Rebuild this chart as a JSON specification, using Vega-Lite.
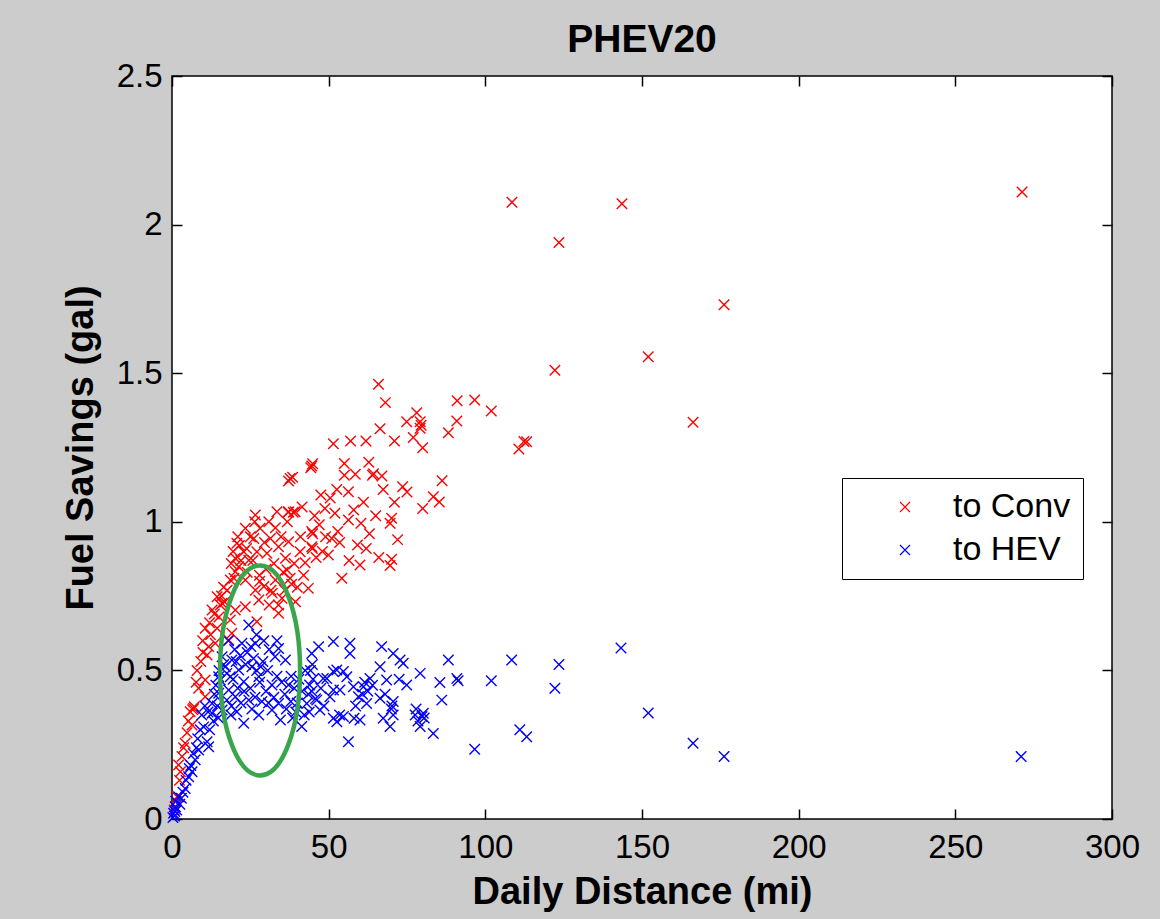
{
"$schema": "https://vega.github.io/schema/vega-lite/v6.json",
"width": 940, "height": 743,
"autosize": {"type": "none"},
"padding": {"left": 172, "top": 76, "right": 48, "bottom": 100},
"background": "#cccccc",
"title": {"text": "PHEV20", "fontSize": 39, "font": "Liberation Sans", "fontWeight": "bold", "color": "black", "anchor": "middle", "baseline": "alphabetic", "offset": -31},
"config": {
  "view": {"stroke": "black", "strokeWidth": 1.5, "fill": "white"},
  "axis": {"grid": false, "domain": false, "tickColor": "black", "tickSize": -10, "tickWidth": 1.5,
    "labelFont": "Liberation Sans", "labelFontSize": 33, "labelColor": "black",
    "titleFont": "Liberation Sans", "titleFontSize": 38, "titleFontWeight": "bold", "titleColor": "black"}
},
"datasets": {
  "pts": [
{"series":"to Conv","mi":108.5,"gal":2.075},{"series":"to Conv","mi":143.6,"gal":2.07},{"series":"to Conv","mi":271.3,"gal":2.11},{"series":"to Conv","mi":123.5,"gal":1.94},{"series":"to Conv","mi":176.2,"gal":1.73},{"series":"to Conv","mi":152,"gal":1.555},{"series":"to Conv","mi":122.2,"gal":1.51},{"series":"to Conv","mi":166.3,"gal":1.335},{"series":"to Conv","mi":112.3,"gal":1.27},{"series":"to Conv","mi":110.7,"gal":1.245},
{"series":"to Conv","mi":65.9,"gal":1.463},{"series":"to Conv","mi":68.1,"gal":1.401},{"series":"to Conv","mi":91,"gal":1.407},{"series":"to Conv","mi":96.6,"gal":1.41},{"series":"to Conv","mi":101.9,"gal":1.373},{"series":"to Conv","mi":90.9,"gal":1.339},{"series":"to Conv","mi":88.2,"gal":1.3},{"series":"to Conv","mi":78.1,"gal":1.367},{"series":"to Conv","mi":74.9,"gal":1.337},{"series":"to Conv","mi":79.2,"gal":1.337},{"series":"to Conv","mi":79.5,"gal":1.325},{"series":"to Conv","mi":79.2,"gal":1.315},{"series":"to Conv","mi":66.4,"gal":1.313},{"series":"to Conv","mi":77,"gal":1.284},{"series":"to Conv","mi":80,"gal":1.249},{"series":"to Conv","mi":71,"gal":1.272},{"series":"to Conv","mi":61.9,"gal":1.272},{"series":"to Conv","mi":57,"gal":1.272},{"series":"to Conv","mi":51.5,"gal":1.263},{"series":"to Conv","mi":113.2,"gal":1.269},
{"series":"to Conv","mi":44.6,"gal":1.188},{"series":"to Conv","mi":44.9,"gal":1.195},{"series":"to Conv","mi":44.3,"gal":1.182},{"series":"to Conv","mi":55,"gal":1.196},{"series":"to Conv","mi":55,"gal":1.157},{"series":"to Conv","mi":64,"gal":1.157},{"series":"to Conv","mi":64.3,"gal":1.162},{"series":"to Conv","mi":67,"gal":1.154},{"series":"to Conv","mi":37.7,"gal":1.146},{"series":"to Conv","mi":86.2,"gal":1.138},{"series":"to Conv","mi":52.6,"gal":1.109},{"series":"to Conv","mi":56.3,"gal":1.101},{"series":"to Conv","mi":73.6,"gal":1.118},{"series":"to Conv","mi":67.4,"gal":1.109},{"series":"to Conv","mi":83.4,"gal":1.084},{"series":"to Conv","mi":85.3,"gal":1.067},{"series":"to Conv","mi":80,"gal":1.045},{"series":"to Conv","mi":61.1,"gal":1.066},{"series":"to Conv","mi":71,"gal":1.066},{"series":"to Conv","mi":37.1,"gal":1.032},{"series":"to Conv","mi":38.7,"gal":1.032},{"series":"to Conv","mi":48.8,"gal":1.045},{"series":"to Conv","mi":52,"gal":1.029},{"series":"to Conv","mi":56.3,"gal":1.006},{"series":"to Conv","mi":60.3,"gal":0.995},{"series":"to Conv","mi":70.1,"gal":1.012},{"series":"to Conv","mi":69.6,"gal":0.995},{"series":"to Conv","mi":44.6,"gal":0.967},{"series":"to Conv","mi":44.9,"gal":0.96},{"series":"to Conv","mi":44.6,"gal":0.916},{"series":"to Conv","mi":44.8,"gal":0.91},{"series":"to Conv","mi":51,"gal":0.944},{"series":"to Conv","mi":52.9,"gal":0.967},{"series":"to Conv","mi":59.2,"gal":0.922},{"series":"to Conv","mi":62,"gal":0.91},{"series":"to Conv","mi":49.9,"gal":0.888},{"series":"to Conv","mi":40.9,"gal":0.899},{"series":"to Conv","mi":42.5,"gal":0.862},{"series":"to Conv","mi":60,"gal":0.855},{"series":"to Conv","mi":70.1,"gal":0.874},{"series":"to Conv","mi":69.6,"gal":0.853},{"series":"to Conv","mi":54.2,"gal":0.81},{"series":"to Conv","mi":37.7,"gal":0.81},{"series":"to Conv","mi":43.5,"gal":0.776},
{"series":"to Conv","mi":37.2,"gal":1.137},{"series":"to Conv","mi":33.5,"gal":1.034},{"series":"to Conv","mi":37.2,"gal":1.034},{"series":"to Conv","mi":39.3,"gal":1.034},{"series":"to Conv","mi":26.6,"gal":1.023},{"series":"to Conv","mi":26.4,"gal":1.0},{"series":"to Conv","mi":30.9,"gal":1.0},{"series":"to Conv","mi":23.4,"gal":0.978},{"series":"to Conv","mi":28.1,"gal":0.978},{"series":"to Conv","mi":31.4,"gal":0.944},{"series":"to Conv","mi":37.2,"gal":0.933},{"series":"to Conv","mi":34,"gal":0.916},{"series":"to Conv","mi":26.1,"gal":0.944},{"series":"to Conv","mi":20.7,"gal":0.928},{"series":"to Conv","mi":22.9,"gal":0.899},{"series":"to Conv","mi":27.1,"gal":0.899},{"series":"to Conv","mi":20.2,"gal":0.877},{"series":"to Conv","mi":24.5,"gal":0.871},{"series":"to Conv","mi":21.3,"gal":0.849},{"series":"to Conv","mi":30.3,"gal":0.894},{"series":"to Conv","mi":36.2,"gal":0.877},{"series":"to Conv","mi":36.7,"gal":0.838},{"series":"to Conv","mi":33,"gal":0.804},{"series":"to Conv","mi":29.3,"gal":0.782},{"series":"to Conv","mi":31.6,"gal":0.77},{"series":"to Conv","mi":26.6,"gal":0.77},{"series":"to Conv","mi":23.4,"gal":0.804},{"series":"to Conv","mi":20.2,"gal":0.832},{"series":"to Conv","mi":18.6,"gal":0.804},{"series":"to Conv","mi":17.6,"gal":0.77},{"series":"to Conv","mi":14.4,"gal":0.748},{"series":"to Conv","mi":15.4,"gal":0.72},{"series":"to Conv","mi":27.7,"gal":0.737},{"series":"to Conv","mi":35.1,"gal":0.743},{"series":"to Conv","mi":39.4,"gal":0.731},
{"series":"to Conv","mi":16,"gal":0.726},{"series":"to Conv","mi":12.8,"gal":0.703},{"series":"to Conv","mi":10.6,"gal":0.642},{"series":"to Conv","mi":14.4,"gal":0.642},{"series":"to Conv","mi":18.6,"gal":0.67},{"series":"to Conv","mi":20.2,"gal":0.703},{"series":"to Conv","mi":23.4,"gal":0.714},{"series":"to Conv","mi":27.1,"gal":0.664},{"series":"to Conv","mi":34,"gal":0.72},{"series":"to Conv","mi":34,"gal":0.692},{"series":"to Conv","mi":11.7,"gal":0.58},{"series":"to Conv","mi":13.8,"gal":0.591},{"series":"to Conv","mi":18.1,"gal":0.602},{"series":"to Conv","mi":19.1,"gal":0.625},{"series":"to Conv","mi":11.2,"gal":0.552},{"series":"to Conv","mi":10.6,"gal":0.468},{"series":"to Conv","mi":8.5,"gal":0.44},{"series":"to Conv","mi":6.9,"gal":0.372},{"series":"to Conv","mi":7.1,"gal":0.378},{"series":"to Conv","mi":6.6,"gal":0.368},{"series":"to Conv","mi":10.6,"gal":0.411},
{"series":"to Conv","mi":6.4,"gal":0.316},{"series":"to Conv","mi":5.8,"gal":0.361},{"series":"to Conv","mi":3.2,"gal":0.21},{"series":"to Conv","mi":2.7,"gal":0.159},{"series":"to Conv","mi":1.6,"gal":0.075},{"series":"to Conv","mi":1.05,"gal":0.041},{"series":"to Conv","mi":4.2,"gal":0.255},{"series":"to Conv","mi":2.1,"gal":0.182},
{"series":"to Conv","mi":19.5,"gal":0.9},{"series":"to Conv","mi":21.5,"gal":0.92},{"series":"to Conv","mi":22,"gal":0.87},{"series":"to Conv","mi":18.9,"gal":0.86},{"series":"to Conv","mi":23.8,"gal":0.91},{"series":"to Conv","mi":25,"gal":0.95},{"series":"to Conv","mi":21,"gal":0.95},{"series":"to Conv","mi":24,"gal":0.83},{"series":"to Conv","mi":19.8,"gal":0.81},{"series":"to Conv","mi":16.5,"gal":0.78},{"series":"to Conv","mi":15.8,"gal":0.75},{"series":"to Conv","mi":13.5,"gal":0.69},{"series":"to Conv","mi":12,"gal":0.66},{"series":"to Conv","mi":9.8,"gal":0.6},{"series":"to Conv","mi":9.2,"gal":0.53},{"series":"to Conv","mi":8,"gal":0.5},{"series":"to Conv","mi":7.7,"gal":0.46},{"series":"to Conv","mi":5.2,"gal":0.33},{"series":"to Conv","mi":4.8,"gal":0.29},{"series":"to Conv","mi":3.7,"gal":0.24},{"series":"to Conv","mi":2.4,"gal":0.13},{"series":"to Conv","mi":1.3,"gal":0.06},{"series":"to Conv","mi":0.7,"gal":0.03},{"series":"to Conv","mi":9.9,"gal":0.56},{"series":"to Conv","mi":12.3,"gal":0.62},{"series":"to Conv","mi":15,"gal":0.68},{"series":"to Conv","mi":16.8,"gal":0.73},{"series":"to Conv","mi":28,"gal":0.8},{"series":"to Conv","mi":30,"gal":0.84},{"series":"to Conv","mi":32.5,"gal":0.86},{"series":"to Conv","mi":34.8,"gal":0.95},{"series":"to Conv","mi":33,"gal":0.98},{"series":"to Conv","mi":29.5,"gal":0.93},{"series":"to Conv","mi":25.8,"gal":0.87},{"series":"to Conv","mi":27.9,"gal":0.82},{"series":"to Conv","mi":31,"gal":0.72},{"series":"to Conv","mi":36,"gal":0.77},{"series":"to Conv","mi":38.2,"gal":0.79},{"series":"to Conv","mi":40,"gal":0.78},{"series":"to Conv","mi":42,"gal":0.82},{"series":"to Conv","mi":46,"gal":0.88},{"series":"to Conv","mi":48,"gal":0.9},{"series":"to Conv","mi":49,"gal":0.95},{"series":"to Conv","mi":47,"gal":0.99},{"series":"to Conv","mi":45.5,"gal":1.02},{"series":"to Conv","mi":41,"gal":0.95},{"series":"to Conv","mi":39,"gal":0.86},{"series":"to Conv","mi":35.5,"gal":0.83},{"series":"to Conv","mi":32,"gal":0.76},{"series":"to Conv","mi":36.8,"gal":1.0},{"series":"to Conv","mi":41.5,"gal":1.05},{"series":"to Conv","mi":38.5,"gal":1.15},{"series":"to Conv","mi":50.5,"gal":1.08},{"series":"to Conv","mi":58,"gal":1.04},{"series":"to Conv","mi":53.5,"gal":0.93},{"series":"to Conv","mi":56.5,"gal":0.87},{"series":"to Conv","mi":63,"gal":0.96},{"series":"to Conv","mi":66,"gal":0.88},{"series":"to Conv","mi":72,"gal":0.94},{"series":"to Conv","mi":65,"gal":1.02},{"series":"to Conv","mi":75,"gal":1.1},{"series":"to Conv","mi":58.5,"gal":1.16},{"series":"to Conv","mi":62.8,"gal":1.2},{"series":"to Conv","mi":47.5,"gal":1.09},
{"series":"to HEV","mi":271,"gal":0.21},{"series":"to HEV","mi":176.2,"gal":0.21},{"series":"to HEV","mi":166.3,"gal":0.255},{"series":"to HEV","mi":152,"gal":0.357},{"series":"to HEV","mi":143.3,"gal":0.575},{"series":"to HEV","mi":123.5,"gal":0.52},{"series":"to HEV","mi":122.2,"gal":0.44},{"series":"to HEV","mi":108.4,"gal":0.535},{"series":"to HEV","mi":111,"gal":0.3},{"series":"to HEV","mi":113.2,"gal":0.277},{"series":"to HEV","mi":101.9,"gal":0.465},{"series":"to HEV","mi":96.6,"gal":0.235},
{"series":"to HEV","mi":51.5,"gal":0.597},{"series":"to HEV","mi":56.8,"gal":0.591},{"series":"to HEV","mi":56.8,"gal":0.557},{"series":"to HEV","mi":44.6,"gal":0.557},{"series":"to HEV","mi":52.6,"gal":0.501},{"series":"to HEV","mi":55.8,"gal":0.479},{"series":"to HEV","mi":49.4,"gal":0.473},{"series":"to HEV","mi":43.9,"gal":0.451},{"series":"to HEV","mi":51.5,"gal":0.434},{"series":"to HEV","mi":57.9,"gal":0.445},{"series":"to HEV","mi":46.2,"gal":0.4},{"series":"to HEV","mi":43,"gal":0.389},{"series":"to HEV","mi":47.2,"gal":0.367},{"series":"to HEV","mi":51.5,"gal":0.339},{"series":"to HEV","mi":54.7,"gal":0.345},{"series":"to HEV","mi":56.3,"gal":0.26},{"series":"to HEV","mi":58.1,"gal":0.339},
{"series":"to HEV","mi":66.9,"gal":0.58},{"series":"to HEV","mi":70.6,"gal":0.557},{"series":"to HEV","mi":73.8,"gal":0.524},{"series":"to HEV","mi":66.4,"gal":0.512},{"series":"to HEV","mi":88.2,"gal":0.535},{"series":"to HEV","mi":79.2,"gal":0.49},{"series":"to HEV","mi":85.5,"gal":0.459},{"series":"to HEV","mi":90.9,"gal":0.473},{"series":"to HEV","mi":91.3,"gal":0.465},{"series":"to HEV","mi":74.9,"gal":0.451},{"series":"to HEV","mi":68.5,"gal":0.468},{"series":"to HEV","mi":63.2,"gal":0.473},{"series":"to HEV","mi":61.1,"gal":0.445},{"series":"to HEV","mi":54.7,"gal":0.496},{"series":"to HEV","mi":51.5,"gal":0.496},{"series":"to HEV","mi":48.3,"gal":0.473},{"series":"to HEV","mi":53.6,"gal":0.434},{"series":"to HEV","mi":50.4,"gal":0.411},{"series":"to HEV","mi":59.5,"gal":0.411},{"series":"to HEV","mi":62.1,"gal":0.389},{"series":"to HEV","mi":66.4,"gal":0.406},{"series":"to HEV","mi":70.6,"gal":0.395},{"series":"to HEV","mi":70.6,"gal":0.35},{"series":"to HEV","mi":67.4,"gal":0.339},{"series":"to HEV","mi":69.6,"gal":0.311},{"series":"to HEV","mi":60,"gal":0.333},{"series":"to HEV","mi":52.6,"gal":0.327},{"series":"to HEV","mi":53.5,"gal":0.35},{"series":"to HEV","mi":77.6,"gal":0.35},{"series":"to HEV","mi":80.2,"gal":0.356},{"series":"to HEV","mi":79.2,"gal":0.311},{"series":"to HEV","mi":83.4,"gal":0.288},{"series":"to HEV","mi":86.1,"gal":0.4},{"series":"to HEV","mi":41.4,"gal":0.311},{"series":"to HEV","mi":72.8,"gal":0.535},{"series":"to HEV","mi":61.5,"gal":0.46},{"series":"to HEV","mi":62.5,"gal":0.43},{"series":"to HEV","mi":60.8,"gal":0.42},{"series":"to HEV","mi":64,"gal":0.45},{"series":"to HEV","mi":58.6,"gal":0.38},{"series":"to HEV","mi":78.5,"gal":0.33},{"series":"to HEV","mi":79.8,"gal":0.345},{"series":"to HEV","mi":80.5,"gal":0.34},{"series":"to HEV","mi":77.9,"gal":0.37},{"series":"to HEV","mi":70.2,"gal":0.38},{"series":"to HEV","mi":70,"gal":0.37},{"series":"to HEV","mi":68,"gal":0.42},{"series":"to HEV","mi":72.5,"gal":0.47},
{"series":"to HEV","mi":24.5,"gal":0.653},{"series":"to HEV","mi":22.3,"gal":0.591},{"series":"to HEV","mi":26.6,"gal":0.591},{"series":"to HEV","mi":29.3,"gal":0.6},{"series":"to HEV","mi":34,"gal":0.574},{"series":"to HEV","mi":36.2,"gal":0.535},{"series":"to HEV","mi":32.9,"gal":0.546},{"series":"to HEV","mi":25.5,"gal":0.512},{"series":"to HEV","mi":28.3,"gal":0.512},{"series":"to HEV","mi":21.3,"gal":0.501},{"series":"to HEV","mi":19.1,"gal":0.535},{"series":"to HEV","mi":18.6,"gal":0.479},{"series":"to HEV","mi":22.9,"gal":0.462},{"series":"to HEV","mi":27.7,"gal":0.479},{"series":"to HEV","mi":31.9,"gal":0.451},{"series":"to HEV","mi":37.2,"gal":0.451},{"series":"to HEV","mi":18.1,"gal":0.434},{"series":"to HEV","mi":15.4,"gal":0.468},{"series":"to HEV","mi":14.9,"gal":0.423},{"series":"to HEV","mi":20.2,"gal":0.411},{"series":"to HEV","mi":24.5,"gal":0.4},{"series":"to HEV","mi":28.7,"gal":0.395},{"series":"to HEV","mi":34,"gal":0.389},{"series":"to HEV","mi":37.9,"gal":0.395},{"series":"to HEV","mi":12.8,"gal":0.389},{"series":"to HEV","mi":16,"gal":0.367},{"series":"to HEV","mi":20.7,"gal":0.361},{"series":"to HEV","mi":27.7,"gal":0.35},{"series":"to HEV","mi":31.9,"gal":0.367},{"series":"to HEV","mi":14.9,"gal":0.479},{"series":"to HEV","mi":17,"gal":0.512},{"series":"to HEV","mi":16,"gal":0.546},
{"series":"to HEV","mi":12.8,"gal":0.356},{"series":"to HEV","mi":11.7,"gal":0.243},{"series":"to HEV","mi":11.2,"gal":0.26},{"series":"to HEV","mi":8.5,"gal":0.232},{"series":"to HEV","mi":7.4,"gal":0.199},{"series":"to HEV","mi":6.4,"gal":0.159},{"series":"to HEV","mi":5.3,"gal":0.142},{"series":"to HEV","mi":4.2,"gal":0.103},{"series":"to HEV","mi":2.1,"gal":0.075},{"series":"to HEV","mi":1.05,"gal":0.041},{"series":"to HEV","mi":0.5,"gal":0.019},{"series":"to HEV","mi":22.9,"gal":0.322},{"series":"to HEV","mi":34.6,"gal":0.333},{"series":"to HEV","mi":10.1,"gal":0.31},
{"series":"to HEV","mi":13.5,"gal":0.42},{"series":"to HEV","mi":14,"gal":0.45},{"series":"to HEV","mi":15,"gal":0.5},{"series":"to HEV","mi":16.5,"gal":0.52},{"series":"to HEV","mi":17.5,"gal":0.49},{"series":"to HEV","mi":19.5,"gal":0.47},{"series":"to HEV","mi":20.5,"gal":0.53},{"series":"to HEV","mi":21.8,"gal":0.55},{"series":"to HEV","mi":23.5,"gal":0.52},{"series":"to HEV","mi":24,"gal":0.56},{"series":"to HEV","mi":25.2,"gal":0.58},{"series":"to HEV","mi":26,"gal":0.54},{"series":"to HEV","mi":27,"gal":0.5},{"series":"to HEV","mi":28,"gal":0.46},{"series":"to HEV","mi":29,"gal":0.53},{"series":"to HEV","mi":30.5,"gal":0.5},{"series":"to HEV","mi":31,"gal":0.57},{"series":"to HEV","mi":30,"gal":0.43},{"series":"to HEV","mi":32.5,"gal":0.41},{"series":"to HEV","mi":33.5,"gal":0.48},{"series":"to HEV","mi":35,"gal":0.46},{"series":"to HEV","mi":36,"gal":0.42},{"series":"to HEV","mi":38,"gal":0.48},{"series":"to HEV","mi":39,"gal":0.44},{"series":"to HEV","mi":40.5,"gal":0.47},{"series":"to HEV","mi":41.5,"gal":0.43},{"series":"to HEV","mi":42.5,"gal":0.5},{"series":"to HEV","mi":40,"gal":0.39},{"series":"to HEV","mi":39.5,"gal":0.36},{"series":"to HEV","mi":38.5,"gal":0.34},{"series":"to HEV","mi":36.5,"gal":0.37},{"series":"to HEV","mi":26.5,"gal":0.41},{"series":"to HEV","mi":25,"gal":0.44},{"series":"to HEV","mi":23,"gal":0.43},{"series":"to HEV","mi":22,"gal":0.39},{"series":"to HEV","mi":21,"gal":0.44},{"series":"to HEV","mi":19,"gal":0.38},{"series":"to HEV","mi":17.5,"gal":0.4},{"series":"to HEV","mi":14.5,"gal":0.38},{"series":"to HEV","mi":13.2,"gal":0.33},{"series":"to HEV","mi":11.5,"gal":0.36},{"series":"to HEV","mi":10.5,"gal":0.38},{"series":"to HEV","mi":9.5,"gal":0.35},{"series":"to HEV","mi":9,"gal":0.3},{"series":"to HEV","mi":8.2,"gal":0.27},{"series":"to HEV","mi":7.8,"gal":0.24},{"series":"to HEV","mi":6.8,"gal":0.22},{"series":"to HEV","mi":6,"gal":0.18},{"series":"to HEV","mi":5.5,"gal":0.17},{"series":"to HEV","mi":4.5,"gal":0.13},{"series":"to HEV","mi":3.5,"gal":0.09},{"series":"to HEV","mi":3,"gal":0.07},{"series":"to HEV","mi":2.5,"gal":0.05},{"series":"to HEV","mi":1.5,"gal":0.03},{"series":"to HEV","mi":0.8,"gal":0.01},{"series":"to HEV","mi":0.3,"gal":0.005},{"series":"to HEV","mi":1.2,"gal":0.06},{"series":"to HEV","mi":0.9,"gal":0.025},{"series":"to HEV","mi":12,"gal":0.3},{"series":"to HEV","mi":14.8,"gal":0.34},{"series":"to HEV","mi":18.8,"gal":0.35},{"series":"to HEV","mi":25.5,"gal":0.37},{"series":"to HEV","mi":30.8,"gal":0.39},{"series":"to HEV","mi":43.5,"gal":0.42},{"series":"to HEV","mi":44.8,"gal":0.52},{"series":"to HEV","mi":46.8,"gal":0.58},{"series":"to HEV","mi":45,"gal":0.47},{"series":"to HEV","mi":47.5,"gal":0.44},{"series":"to HEV","mi":48.5,"gal":0.38},{"series":"to HEV","mi":42.2,"gal":0.35},{"series":"to HEV","mi":43.8,"gal":0.36},{"series":"to HEV","mi":44.6,"gal":0.43},{"series":"to HEV","mi":45.8,"gal":0.405},{"series":"to HEV","mi":44.2,"gal":0.5},{"series":"to HEV","mi":33.5,"gal":0.6},{"series":"to HEV","mi":27,"gal":0.62},{"series":"to HEV","mi":20,"gal":0.57},{"series":"to HEV","mi":18,"gal":0.6}
  ],
  "highlight": [{"mi": 28.1, "gal": 0.5}]
},
"layer": [
  {
    "data": {"name": "pts"},
    "mark": {"type": "point", "shape": "M-1,-1L1,1M-1,1L1,-1", "filled": false, "size": 110, "strokeWidth": 1.4, "opacity": 1},
    "encoding": {
      "x": {"field": "mi", "type": "quantitative", "scale": {"domain": [0, 300], "nice": false, "zero": false},
        "axis": {"orient": "bottom", "values": [0, 50, 100, 150, 200, 250, 300], "labelFlush": false, "labelPadding": 22,
          "title": "Daily Distance (mi)", "titleX": 470, "titleY": 84, "titleBaseline": "alphabetic", "titleAlign": "center"}},
      "y": {"field": "gal", "type": "quantitative", "scale": {"domain": [0, 2.5], "nice": false},
        "axis": {"orient": "left", "values": [0, 0.5, 1, 1.5, 2, 2.5], "format": "~g", "labelPadding": 20,
          "title": "Fuel Savings (gal)", "titleX": -80, "titleY": 371.5, "titleBaseline": "alphabetic", "titleAlign": "center", "titleAngle": -90}},
      "color": {"field": "series", "type": "nominal", "scale": {"domain": ["to Conv", "to HEV"], "range": ["#ff0000", "#0000ff"]},
        "legend": {"orient": "none", "legendX": 670, "legendY": 402, "title": null, "fillColor": "white", "strokeColor": "black",
          "padding": 12, "rowPadding": 9, "symbolType": "M-1,-1L1,1M-1,1L1,-1", "symbolSize": 100, "symbolStrokeWidth": 1.2,
          "symbolOffset": 34, "labelOffset": 31, "labelFont": "Liberation Sans", "labelFontSize": 34, "labelColor": "black", "labelLimit": 400}}
    }
  },
  {
    "data": {"name": "highlight"},
    "mark": {"type": "point", "shape": "M0,-1C0.2104,-1 0.381,-0.5523 0.381,0C0.381,0.5523 0.2104,1 0,1C-0.2104,1 -0.381,0.5523 -0.381,0C-0.381,-0.5523 -0.2104,-1 0,-1Z",
      "filled": false, "size": 44100, "stroke": "#3aa64c", "strokeWidth": 4.5, "opacity": 1},
    "encoding": {
      "x": {"field": "mi", "type": "quantitative", "axis": {"orient": "top", "values": [0, 50, 100, 150, 200, 250, 300], "labels": false, "title": null}},
      "y": {"field": "gal", "type": "quantitative", "axis": {"orient": "right", "values": [0, 0.5, 1, 1.5, 2, 2.5], "labels": false, "title": null}}
    }
  }
],
"resolve": {"axis": {"x": "independent", "y": "independent"}}
}
